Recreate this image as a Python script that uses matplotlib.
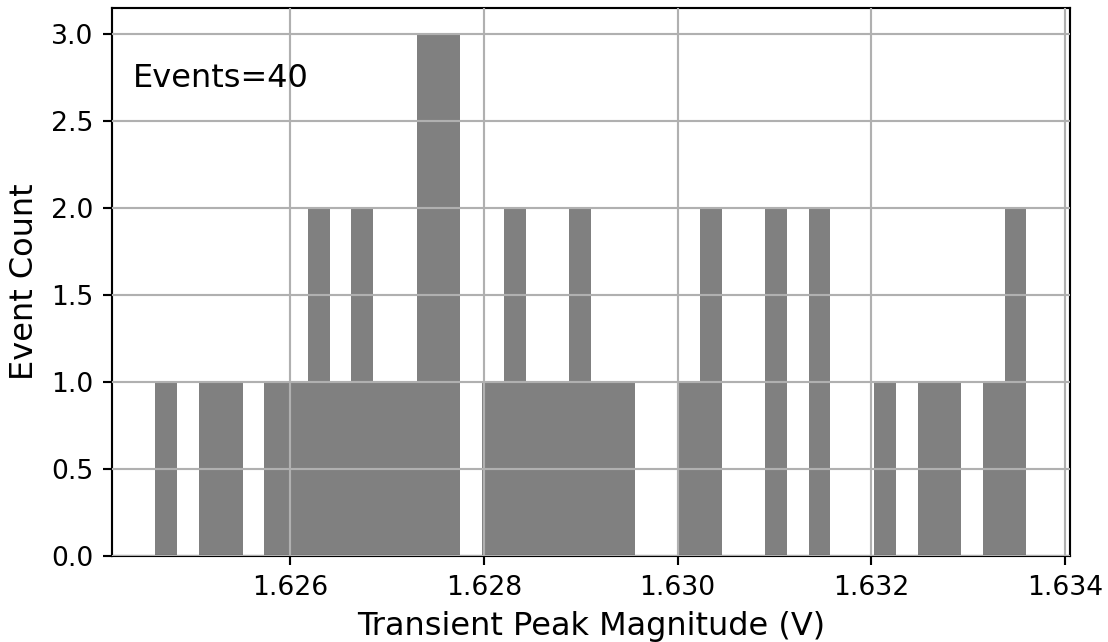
import numpy as np
import matplotlib
matplotlib.use("Agg")
import matplotlib.pyplot as plt

# histogram range and per-bin event counts (40 equal bins)
bin_lo = 1.62461
bin_hi = 1.63360
counts = [1, 0, 1, 1, 0, 1, 1, 2, 1, 2,
          1, 1, 3, 3, 0, 1, 2, 1, 1, 2,
          1, 1, 0, 0, 1, 2, 0, 0, 2, 0,
          2, 0, 0, 1, 0, 1, 1, 0, 1, 2]
n_events = 40

edges = np.linspace(bin_lo, bin_hi, len(counts) + 1)
centers = 0.5 * (edges[:-1] + edges[1:])

dpi = 192
fig, ax = plt.subplots(figsize=(1108 / dpi, 642 / dpi), dpi=dpi)
fig.subplots_adjust(left=0.101, right=0.9657, top=0.9875, bottom=0.134)

ax.hist(centers, bins=edges, weights=counts, color='grey')
ax.grid(True)
ax.set_axisbelow(False)

ax.set_xticks([1.626, 1.628, 1.630, 1.632, 1.634])
ax.set_xlabel("Transient Peak Magnitude (V)", fontsize=12)
ax.set_ylabel("Event Count", fontsize=12)
ax.text(0.022, 0.9, f"Events={n_events}", transform=ax.transAxes,
        fontsize=12, va='top', ha='left')

plt.savefig("out.png", dpi=dpi)
